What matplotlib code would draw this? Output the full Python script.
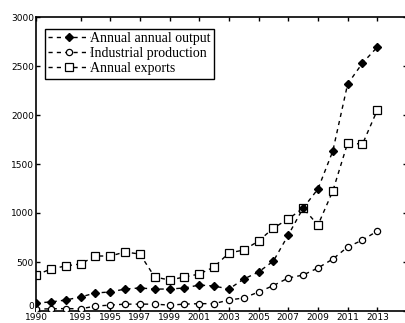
import numpy as np
import matplotlib.pyplot as plt

years = np.arange(1990, 2014)

# annual output (filled diamonds)
output = [82, 92, 112, 143, 184, 194, 224, 235, 224, 224, 235, 265,
          255, 224, 326, 398, 510, 775, 1050, 1245, 1632, 2316, 2530, 2693]
# industrial production (open circles)
industry = [20, 22, 25, 22, 50, 60, 70, 70, 70, 60, 70, 75,
            75, 112, 133, 194, 260, 337, 367, 439, 530, 653, 724, 816]
# annual exports (open squares)
exports = [367, 428, 460, 480, 561, 561, 602, 581, 347, 316, 347, 377,
           449, 592, 622, 714, 847, 938, 1050, 877, 1224, 1714, 1703, 2050]

xticks = [1990, 1993, 1995, 1997, 1999, 2001, 2003, 2005, 2007, 2009, 2011, 2013]
yticks = [0, 500, 1000, 1500, 2000, 2500, 3000]

fig = plt.figure(figsize=(4.06, 3.23), dpi=100)
ax = fig.add_axes([36 / 406, 12 / 323, 371 / 406, 294 / 323])

ax.plot(years, exports, ls='--', color='k', lw=1, dashes=(3, 3), marker='s', ms=5.5,
        mfc='white', mec='k', mew=0.9, label='Annual exports', zorder=2)
ax.plot(years, industry, ls='--', color='k', lw=1, dashes=(3, 3), marker='o', ms=4.5,
        mfc='white', mec='k', mew=0.9, label='Industrial production', zorder=3)
ax.plot(years, output, ls='--', color='k', lw=1, dashes=(3, 3), marker='D', ms=3.8,
        mfc='k', mec='k', label='Annual annual output', zorder=4)

ax.set_xlim(1990, 2015)
ax.set_ylim(0, 3000)
ax.set_xticks(xticks)
ax.set_yticks(yticks)
ax.tick_params(direction='in', top=True, right=True, length=3, width=1,
               labelsize=6.5, pad=1.5)
for s in ax.spines.values():
    s.set_linewidth(1.2)
# the "0" sits a bit higher, clear of the 1990 label
ax.yaxis.get_major_ticks()[0].label1.set_verticalalignment('bottom')

h, l = ax.get_legend_handles_labels()
order = [2, 1, 0]
leg = ax.legend([h[i] for i in order], [l[i] for i in order],
                loc='upper left', bbox_to_anchor=(0.012, 0.975),
                prop={'family': 'Liberation Serif', 'size': 10},
                handlelength=3, handletextpad=0.0, borderpad=0.25,
                labelspacing=0.15, borderaxespad=0.3, fancybox=False,
                framealpha=1, edgecolor='k')
leg.get_frame().set_linewidth(1)

fig.savefig('out.png', dpi=100)
